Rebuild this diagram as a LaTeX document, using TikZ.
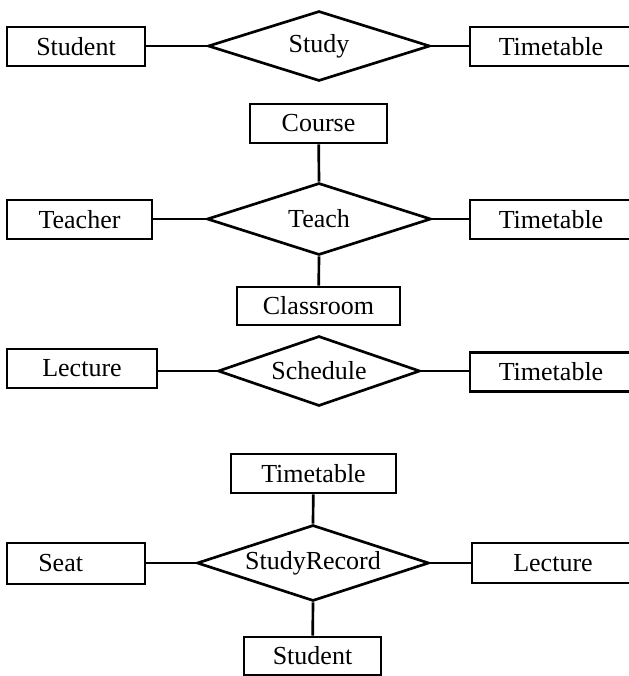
\documentclass[tikz,border=0pt]{standalone}
\usepackage{fontspec}
\setmainfont{Liberation Serif}
\usetikzlibrary{shapes.geometric}
\begin{document}
\begin{tikzpicture}[x=0.75pt,y=-0.75pt,
  ent/.style={draw, rectangle, line width=2pt, inner sep=0pt, font=\fontsize{19.5}{22}\selectfont},
  rel/.style={draw, diamond, aspect=3.3, inner sep=0pt, line width=2pt, font=\fontsize{19.5}{22}\selectfont},
  lnk/.style={line width=2pt}]
\useasboundingbox (0,0) rectangle (629,676);
\clip (0,0) rectangle (629,676);
% Row 1
\node[ent, minimum width={138*0.75pt}, minimum height={39*0.75pt}] (student1) at (76,46.5) {Student};
\node[rel, minimum width={222*0.75pt}, minimum height={70*0.75pt}] (study) at (319,46) {Study};
\node[ent, minimum width={162*0.75pt}, minimum height={39*0.75pt}] (tt1) at (551,46.5) {Timetable};
\draw[lnk] (student1.east |- study.west) -- (study.west);
\draw[lnk] (study.east) -- (tt1.west |- study.east);
% Row 2
\node[ent, minimum width={137*0.75pt}, minimum height={39*0.75pt}] (course) at (318.5,123.5) {Course};
\node[rel, minimum width={224*0.75pt}, minimum height={72*0.75pt}] (teach) at (319,219) {Teach};
\node[ent, minimum width={145*0.75pt}, minimum height={39*0.75pt}] (teacher) at (79.5,219.5) {Teacher};
\node[ent, minimum width={162*0.75pt}, minimum height={39*0.75pt}] (tt2) at (551,219.5) {Timetable};
\node[ent, minimum width={163*0.75pt}, minimum height={38*0.75pt}] (classroom) at (318.5,306) {Classroom};
\draw[lnk] (course) -- (teach.north);
\draw[lnk] (teacher.east |- teach.west) -- (teach.west);
\draw[lnk] (teach.east) -- (tt2.west |- teach.east);
\draw[lnk] (teach.south) -- (classroom);
% Row 3
\node[ent, minimum width={150*0.75pt}, minimum height={39*0.75pt}] (lecture1) at (82,368.5) {Lecture};
\node[rel, minimum width={202*0.75pt}, minimum height={70*0.75pt}] (schedule) at (319,371) {Schedule};
\node[ent, minimum width={162*0.75pt}, minimum height={39*0.75pt}] (tt3) at (551,372) {Timetable};
\draw[lnk] (lecture1.east |- schedule.west) -- (schedule.west);
\draw[lnk] (schedule.east) -- (tt3.west |- schedule.east);
% Row 4
\node[ent, minimum width={165*0.75pt}, minimum height={39*0.75pt}] (tt4) at (313.5,473.5) {Timetable};
\node[rel, minimum width={232*0.75pt}, minimum height={76*0.75pt}] (studyrecord) at (313,563) {StudyRecord};
\node[ent, minimum width={138*0.75pt}, minimum height={41*0.75pt}] (seat) at (76,563.5) {\hspace*{-23pt}Seat};
\node[ent, minimum width={162*0.75pt}, minimum height={40*0.75pt}] (lecture2) at (553,563) {Lecture};
\node[ent, minimum width={137*0.75pt}, minimum height={38*0.75pt}] (student2) at (312.5,656) {Student};
\draw[lnk] (tt4) -- (studyrecord.north);
\draw[lnk] (seat.east |- studyrecord.west) -- (studyrecord.west);
\draw[lnk] (studyrecord.east) -- (lecture2.west |- studyrecord.east);
\draw[lnk] (studyrecord.south) -- (student2);
\end{tikzpicture}
\end{document}
